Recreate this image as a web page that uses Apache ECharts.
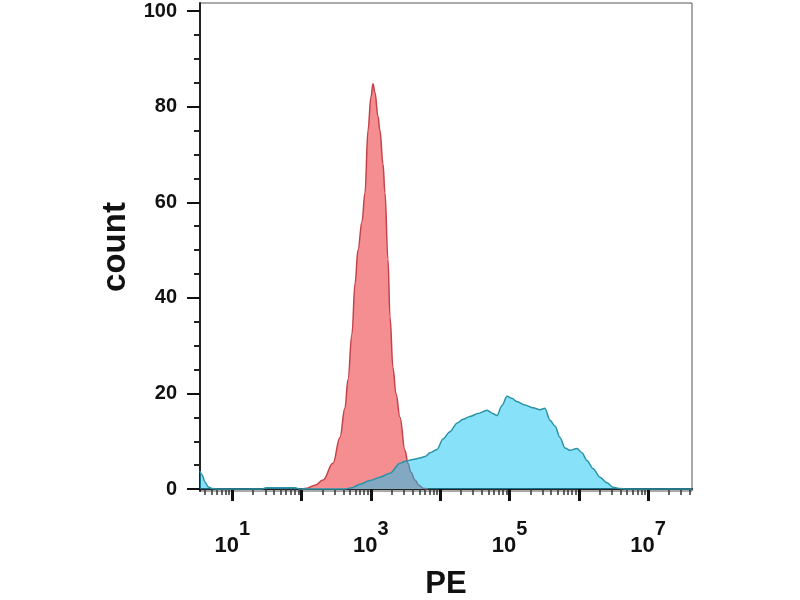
<!DOCTYPE html>
<html>
<head>
<meta charset="utf-8">
<script src="https://cdn.jsdelivr.net/npm/echarts@6/dist/echarts.min.js"></script>
<style>html,body{margin:0;padding:0;background:#fff;}#c{width:800px;height:600px;}</style>
</head>
<body>
<div id="c"></div>
<script>
// PE intensities given as log10(PE); counts
const redLogPE = [2.006, 2.078, 2.193, 2.309, 2.453, 2.554, 2.626, 2.670, 2.727, 2.771, 2.814, 2.872, 2.915, 2.958, 3.001, 3.030, 3.059, 3.102, 3.131, 3.175, 3.203, 3.247, 3.276, 3.319, 3.362, 3.420, 3.492, 3.535, 3.579, 3.636, 3.694, 3.752, 3.824];
const redCount = [0, 0.2, 0.8, 1.9, 5.4, 10.8, 17, 23, 32.5, 43, 50, 56, 62, 75, 82, 84.8, 83, 78, 75, 68, 62, 48, 36, 25.4, 20, 15, 8.1, 5.4, 3.5, 1.9, 0.8, 0.2, 0];

const cyanLogPE = [0.534, 0.563, 0.606, 0.649, 0.707, 0.794, 1.429, 1.486, 1.905, 1.977, 2.626, 2.727, 2.843, 2.987, 3.131, 3.276, 3.420, 3.492, 3.608, 3.709, 3.781, 3.853, 3.954, 4.040, 4.141, 4.242, 4.329, 4.430, 4.545, 4.675, 4.762, 4.820, 4.892, 4.964, 5.036, 5.108, 5.224, 5.339, 5.440, 5.512, 5.584, 5.657, 5.729, 5.801, 5.873, 5.974, 6.046, 6.118, 6.205, 6.306, 6.407, 6.494, 6.595, 6.696, 7.634];
const cyanCount = [3.8, 3.0, 1.5, 0.5, 0.1, 0, 0, 0.3, 0.3, 0, 0, 0.3, 1.0, 1.8, 2.5, 3.3, 5.4, 5.8, 6.2, 6.5, 6.8, 7.6, 8.3, 10.5, 12.0, 13.8, 14.6, 15.2, 15.8, 16.5, 15.8, 15.4, 17.5, 19.4, 19.0, 18.3, 17.6, 17.0, 16.6, 16.9, 14.4, 13.2, 10.8, 8.6, 8.1, 8.5, 7.6, 6.0, 4.3, 2.5, 1.3, 0.4, 0.1, 0, 0];

const yMajorTicks = [0, 20, 40, 60, 80, 100];
const yMinorTicks = [5, 10, 15, 25, 30, 35, 45, 50, 55, 65, 70, 75, 85, 90, 95];
const xDecadeTicks = [1, 2, 3, 4, 5, 6, 7];
const xLabelExponents = [1, 3, 5, 7];
const xRange = [0.534, 7.634];
const yRange = [-0.4, 101.7];

const xMinorTicks = [];
for (let d = 0; d <= 7; d++) {
  for (let k = 2; k <= 9; k++) {
    const v = Math.log10(k) + d;
    if (v > xRange[0] && v < xRange[1]) xMinorTicks.push(v);
  }
}

const FONT = '"Liberation Sans", Arial, sans-serif';
const chart = echarts.init(document.getElementById('c'), null, {renderer: 'canvas'});
const option = {
  backgroundColor: '#ffffff',
  animation: false,
  grid: {left: 200, right: 108, top: 3, bottom: 109, containLabel: false, outerBoundsMode: 'none',
         show: true, borderColor: '#555', borderWidth: 1},
  xAxis: [
    {
      type: 'value', position: 'bottom', min: xRange[0], max: xRange[1],
      name: 'PE', nameLocation: 'middle', nameGap: 78,
      nameTextStyle: {fontSize: 31, fontWeight: 'bold', color: '#111', fontFamily: FONT},
      axisLine: {show: true, lineStyle: {color: '#222', width: 2}},
      axisTick: {show: true, customValues: xDecadeTicks, length: 12, lineStyle: {color: '#111', width: 3}},
      axisLabel: {
        customValues: xLabelExponents, margin: 28,
        formatter: function (v) { return '{b|10}{s|' + Math.round(v) + '}'; },
        rich: {
          b: {fontSize: 22, fontWeight: 'bold', color: '#111', fontFamily: FONT, padding: [16, 0, 0, 0]},
          s: {fontSize: 20, fontWeight: 'bold', color: '#111', fontFamily: FONT, verticalAlign: 'top'}
        }
      },
      splitLine: {show: false}
    },
    {
      type: 'value', position: 'bottom', min: xRange[0], max: xRange[1],
      axisLine: {show: false},
      axisTick: {show: true, customValues: xMinorTicks, length: 6, lineStyle: {color: '#333', width: 1.5}},
      axisLabel: {show: false},
      splitLine: {show: false}
    }
  ],
  yAxis: [
    {
      type: 'value', position: 'left', min: yRange[0], max: yRange[1],
      name: 'count', nameLocation: 'middle', nameGap: 62,
      nameTextStyle: {fontSize: 33, fontWeight: 'bold', color: '#111', fontFamily: FONT},
      axisLine: {show: true, lineStyle: {color: '#222', width: 2}},
      axisTick: {show: true, customValues: yMajorTicks, length: 13, lineStyle: {color: '#111', width: 2}},
      axisLabel: {customValues: yMajorTicks, margin: 23, fontSize: 20, fontWeight: 'bold', color: '#111', fontFamily: FONT},
      splitLine: {show: false}
    },
    {
      type: 'value', position: 'left', min: yRange[0], max: yRange[1],
      axisLine: {show: false},
      axisTick: {show: true, customValues: yMinorTicks, length: 6, lineStyle: {color: '#222', width: 2}},
      axisLabel: {show: false},
      splitLine: {show: false}
    }
  ],
  series: [
    {
      type: 'line', name: 'red', xAxisIndex: 0, yAxisIndex: 0,
      data: redLogPE.map((x, i) => [x, redCount[i]]),
      showSymbol: false, smooth: 0.4, smoothMonotone: 'x',
      lineStyle: {color: '#c4424a', width: 1.5},
      areaStyle: {color: '#f48e90', opacity: 1},
      z: 2
    },
    {
      type: 'line', name: 'cyan', xAxisIndex: 0, yAxisIndex: 0,
      data: cyanLogPE.map((x, i) => [x, cyanCount[i]]),
      showSymbol: false, smooth: 0.3, smoothMonotone: 'x',
      lineStyle: {color: '#2a93a8', width: 1.5},
      areaStyle: {color: 'rgba(15,195,241,0.5)', opacity: 1},
      z: 3
    }
  ]
};
chart.setOption(option);
</script>
</body>
</html>
